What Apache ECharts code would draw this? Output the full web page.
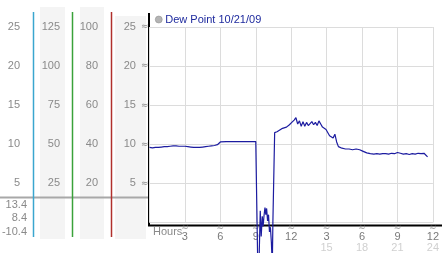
<!DOCTYPE html>
<html><head><meta charset="utf-8">
<script src="https://cdn.jsdelivr.net/npm/echarts@6/dist/echarts.min.js"></script>
<style>html,body{margin:0;padding:0;background:#fff}#c{width:442px;height:253px}</style>
</head><body><div id="c"></div>
<script>
var seriesName = 'Dew Point 10/21/09';
var hours = [0,0.25,0.5,0.75,1,1.25,1.5,1.75,2,2.25,2.5,2.75,3,3.25,3.5,3.75,4,4.25,4.5,4.75,5,5.25,5.5,5.75,6,
  6.5,7,7.5,8,8.5,9,9.15,9.22,9.3,9.38,9.46,9.55,9.62,9.7,9.78,9.85,9.92,10,10.08,10.16,10.24,10.32,10.4,10.45,10.6,
  10.8,11,11.2,11.4,11.6,11.85,12.05,12.25,12.4,12.55,12.7,12.85,13,13.15,13.3,13.45,13.6,13.75,13.9,14.05,14.2,14.35,14.5,14.65,14.8,14.95,15.1,15.25,15.4,15.55,15.7,15.85,
  16,16.15,16.3,16.45,16.6,16.75,16.9,17.05,17.2,17.35,17.5,17.65,17.8,17.95,18.1,18.25,18.4,18.55,18.7,18.85,19,19.25,19.5,19.75,20,20.25,20.5,20.75,21,21.25,21.5,21.75,22,22.25,22.5,22.75,23,23.25,23.4,23.55];
var dew = [9.6,9.55,9.6,9.6,9.65,9.7,9.7,9.75,9.8,9.8,9.75,9.75,9.75,9.7,9.65,9.6,9.6,9.6,9.65,9.7,9.75,9.8,9.85,9.95,10.3,
  10.35,10.35,10.35,10.35,10.35,10.35,10.3,-10.4,-3.5,1.5,-1.8,0.8,-0.5,0.9,1.9,1.0,1.8,0.2,1.0,-1.2,-0.6,-2.5,-5.5,0.0,11.5,
  11.6,11.8,12.0,12.1,12.2,12.5,12.8,13.1,13.4,12.6,13.0,12.3,12.9,12.3,12.8,12.4,12.6,12.9,12.5,12.8,12.4,13.0,12.6,12.2,12.4,11.9,12.0,11.1,11.2,10.8,11.3,10.3,
  9.7,9.9,9.5,9.7,9.4,9.6,9.4,9.6,9.3,9.5,9.4,9.6,9.3,9.4,9.1,9.2,8.9,9.1,8.8,9.0,8.75,8.8,8.75,8.8,8.8,8.75,8.85,8.8,8.95,8.85,8.75,8.8,8.7,8.8,8.75,8.85,8.8,8.85,8.7,8.4];
var xTicks = [3,6,9,12,15,18,21,24];
var yTicks = [5,10,15,20,25];
var col1Max = 25, col2Max = 125, col3Max = 100;
var statLabels = ['13.4','8.4','-10.4'];

var chart = echarts.init(document.getElementById('c'), null, {renderer:'canvas'});
var gridL = 149.5, gridT = 27, gridB = 225.5;
var lblColor = '#8a8a8a';
var font = 'Arial, "Liberation Sans", sans-serif';
var markFont = '"DejaVu Sans", sans-serif';

function sideAxis(max, off) {
  return {type:'value', gridIndex:0, position:'left', offset:off, min:0, max:max, interval:max/5,
    axisLine:{show:false}, axisTick:{show:false}, splitLine:{show:false},
    axisLabel:{margin:0, color:lblColor, fontSize:11, fontFamily:font, formatter:function(v){return v===0?'':String(v);}}};
}

var data = hours.map(function(h,i){return [h, dew[i]];});

var graphics = [
  {type:'rect', z:-1, shape:{x:40,y:7,width:25,height:232}, style:{fill:'#f4f4f4'}},
  {type:'rect', z:-1, shape:{x:80,y:7,width:24,height:232}, style:{fill:'#f4f4f4'}},
  {type:'rect', z:-1, shape:{x:115,y:16,width:31,height:223}, style:{fill:'#f4f4f4'}},
  {type:'line', shape:{x1:0,y1:197.5,x2:149,y2:197.5}, style:{stroke:'#a8a8a8', lineWidth:2}},
  {type:'line', shape:{x1:33.5,y1:12,x2:33.5,y2:237}, style:{stroke:'#3aa6cf', lineWidth:1.5}},
  {type:'line', shape:{x1:72.5,y1:12,x2:72.5,y2:237}, style:{stroke:'#3aa23a', lineWidth:1.5}},
  {type:'line', shape:{x1:111.5,y1:12,x2:111.5,y2:237}, style:{stroke:'#b0302c', lineWidth:1.5}},
  {type:'line', shape:{x1:149,y1:13,x2:149,y2:226}, style:{stroke:'#000', lineWidth:2}},
  {type:'line', shape:{x1:148,y1:225.5,x2:442,y2:225.5}, style:{stroke:'#000', lineWidth:2}},
  {type:'text', x:153, y:232, style:{text:'Hours', fill:lblColor, font:'11px '+font, textVerticalAlign:'middle'}}
];
var statY = [205, 218, 232];
statLabels.forEach(function(s,i){
  graphics.push({type:'text', x:27, y:statY[i], style:{text:s, fill:lblColor, font:'11px '+font, textAlign:'right', textVerticalAlign:'middle'}});
});

chart.setOption({
  animation:false,
  textStyle:{fontFamily:font},
  legend:{left:155, top:14, itemWidth:7, itemHeight:7, itemGap:4, padding:0,
    data:[{name:seriesName, icon:'circle', itemStyle:{color:'#b4b4b4', borderColor:'#888', borderWidth:0.5}}],
    textStyle:{color:'#1e2a9e', fontSize:11, fontFamily:font, padding:[0,0,0,-2]}},
  grid:{left:gridL, right:3, top:gridT, bottom:253-gridB, containLabel:false},
  xAxis:{type:'value', min:0, max:24, interval:3,
    axisLine:{show:false}, axisTick:{show:false},
    splitLine:{show:true, lineStyle:{color:'#dcdcdc', width:1}},
    axisLabel:{margin:1, formatter:function(v){
      if (v===0 || xTicks.indexOf(v)<0) return '';
      var a = ((v-1)%12)+1;
      return '{m|≈}\n{a|'+a+'}' + (v>12 ? '\n{b|'+v+'}' : '');
    }, rich:{
      m:{fontSize:9, lineHeight:8, color:'#8c8c8c', align:'center', fontFamily:markFont},
      a:{fontSize:11, lineHeight:10, color:'#7a7a7a', align:'center', fontFamily:font},
      b:{fontSize:11, lineHeight:12, color:'#d0d0d0', align:'center', fontFamily:font}
    }}},
  yAxis:[
    {type:'value', min:0, max:25, interval:5, position:'left',
      axisLine:{show:false}, axisTick:{show:false},
      splitLine:{show:true, lineStyle:{color:'#dcdcdc', width:1}},
      axisLabel:{margin:1, formatter:function(v){ return (v===0||yTicks.indexOf(v)<0)?'':'{v|'+v+'}{m|≈}'; },
        rich:{v:{fontSize:11, color:lblColor, fontFamily:font}, m:{fontSize:9, color:'#8c8c8c', padding:[0,0,0,5], fontFamily:markFont}}}},
    sideAxis(col1Max, gridL-20),
    sideAxis(col2Max, gridL-60),
    sideAxis(col3Max, gridL-98)
  ],
  series:[{name:seriesName, type:'line', data:data, showSymbol:false, clip:false,
    lineStyle:{color:'#1c1ca0', width:1.2}, itemStyle:{color:'#1c1ca0'}, z:3}],
  graphic:graphics
});
</script></body></html>
